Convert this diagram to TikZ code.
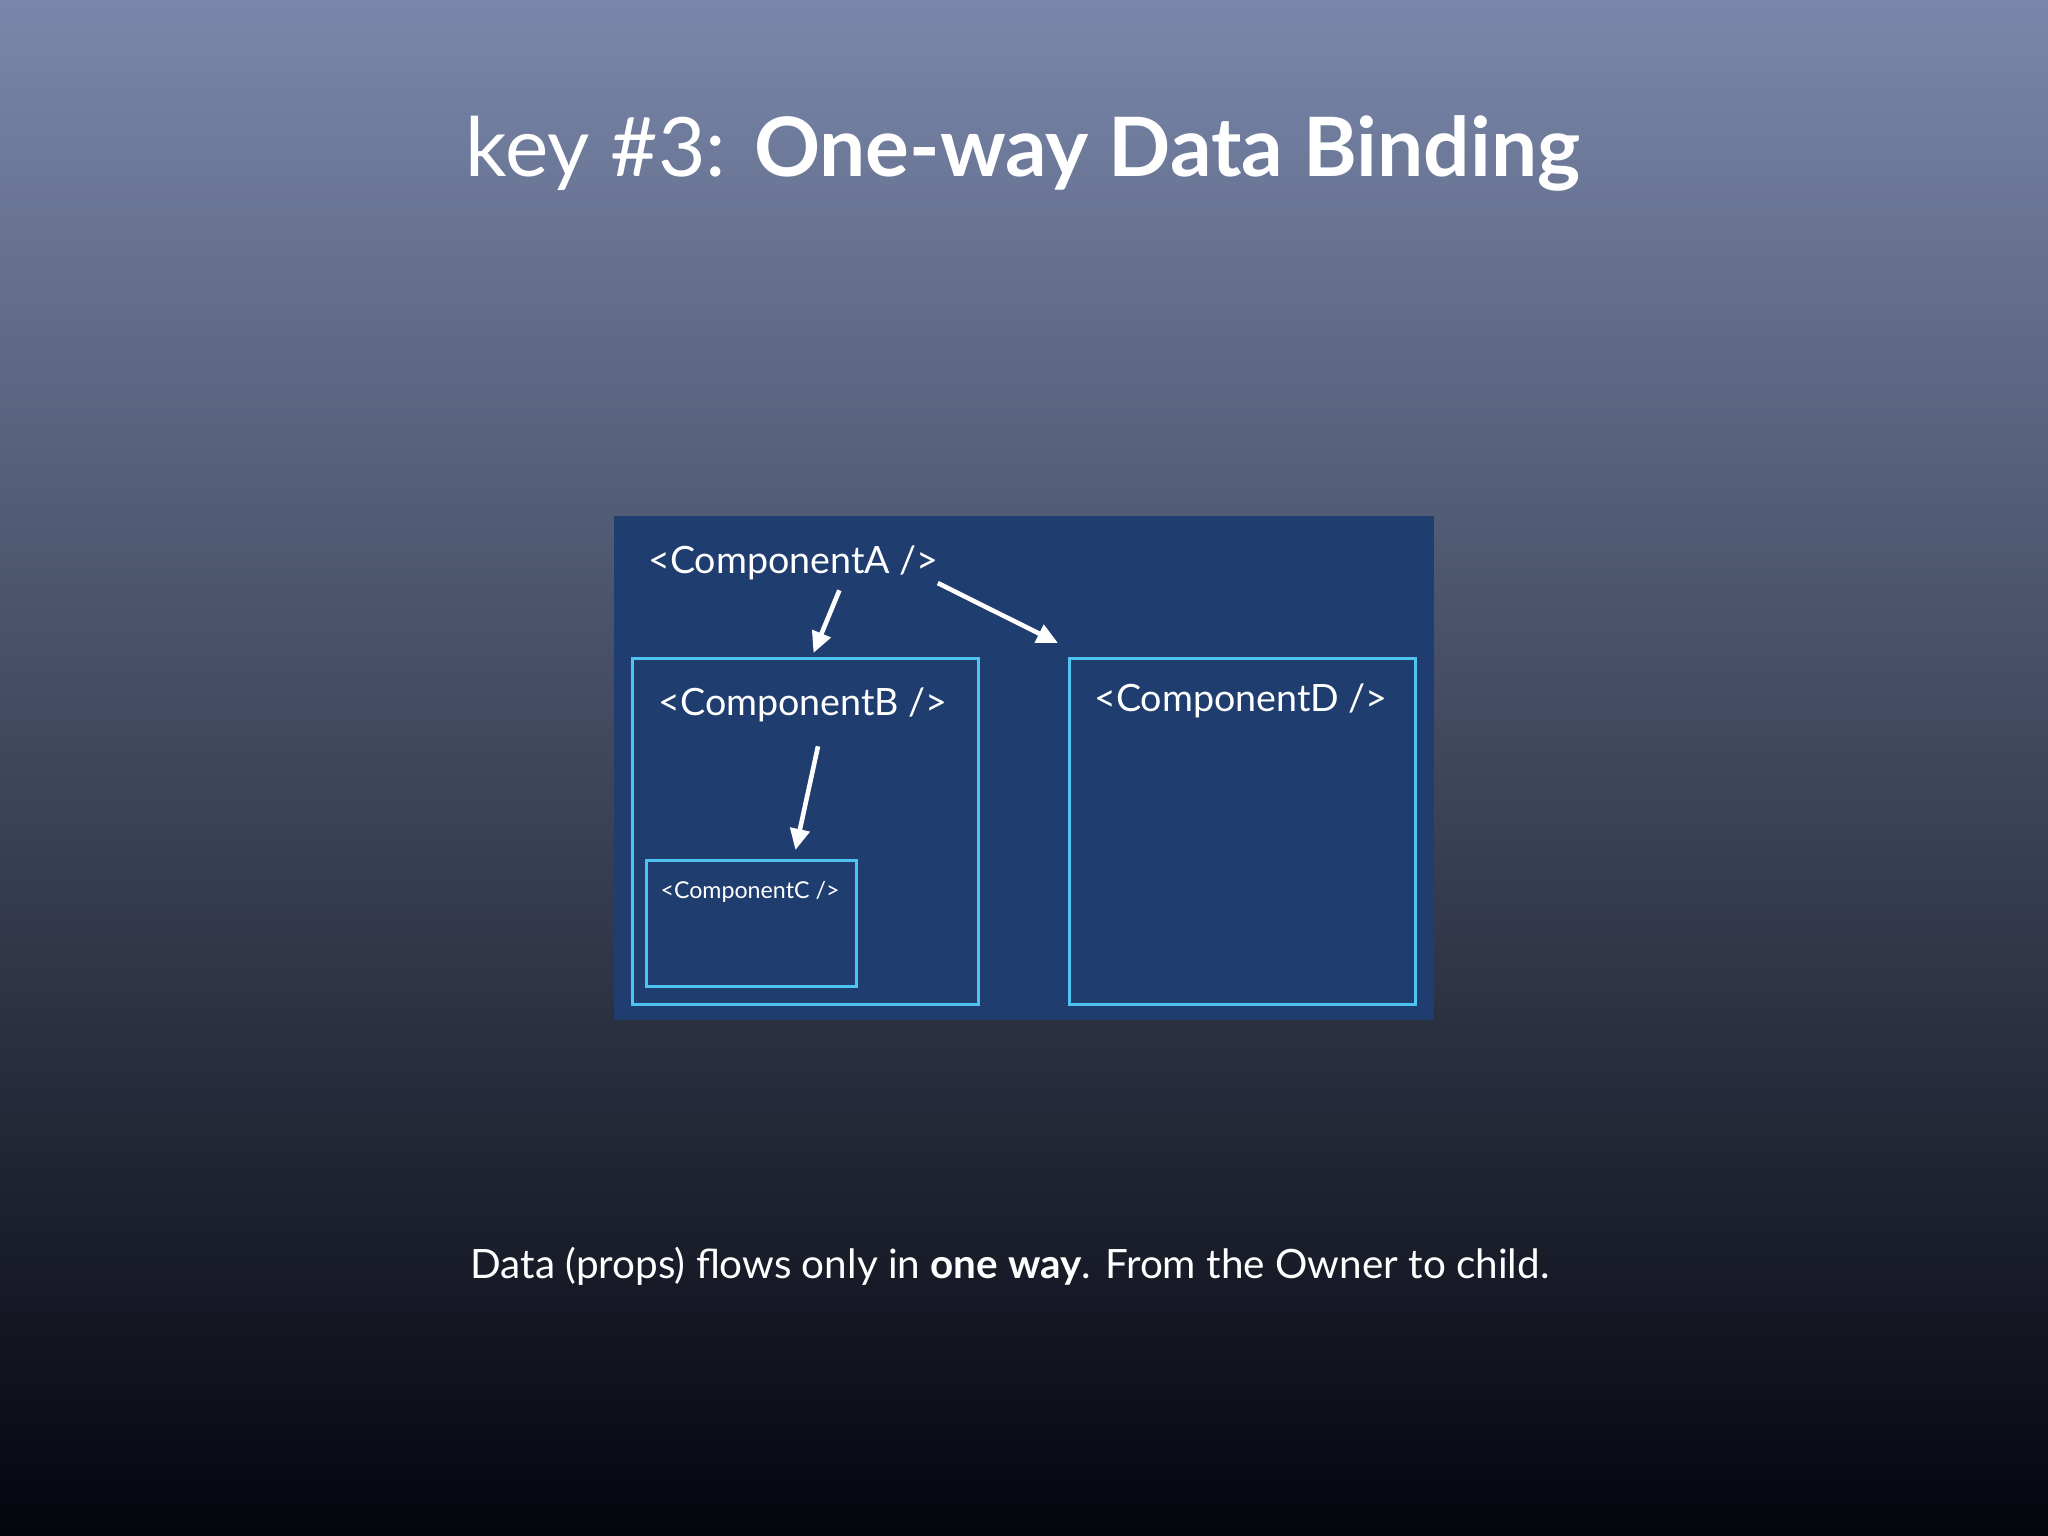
\documentclass[tikz,border=0pt]{standalone}
\usepackage{fontspec}
\setmainfont{Lato}
\usepackage{tikz}
\usetikzlibrary{arrows.meta, positioning, calc}

\definecolor{bgtop}{RGB}{122,135,170}
\definecolor{bgmid}{RGB}{66,72,102}
\definecolor{bgbot}{RGB}{4,5,13}
\definecolor{panel}{RGB}{31,61,110}
\definecolor{edge}{RGB}{80,196,240}

\begin{document}
\begin{tikzpicture}[x=0.01cm, y=-0.01cm,
    comp/.style={draw=edge, line width=0.8pt, inner sep=0pt, anchor=north west},
    tag/.style={text=white, inner sep=1pt},
    flow/.style={draw=white, line width=1.3pt, -{Triangle[length=6pt, width=5.5pt]}}]
% Sfondo
\fill[top color=bgtop, middle color=bgmid, bottom color=bgbot] (0,0) rectangle (2048,1536);
\useasboundingbox (0,0) rectangle (2048,1536);

% Titolo
\node[text=white, font=\fontsize{23.3}{28}\selectfont] (title) at (1023,153) {key \#3: \textbf{One-way Data Binding}};

% Componenti
\fill[panel] (614,516) rectangle (1434,1020);
\node[tag, font=\fontsize{10.7}{13}\selectfont, anchor=west] (lblA) at (644,563) {<ComponentA />};
\node[comp, minimum width=3.46cm, minimum height=3.46cm] (boxB) at (631,657) {};
\node[tag, font=\fontsize{10.7}{13}\selectfont] (lblB) at (803,705) {<ComponentB />};
\node[comp, minimum width=2.10cm, minimum height=1.26cm] (boxC) at (645,859) {};
\node[tag, font=\fontsize{6.6}{8}\selectfont] (lblC) at (750,892) {<ComponentC />};
\node[comp, minimum width=3.46cm, minimum height=3.46cm] (boxD) at (1068,657) {};
\node[tag, font=\fontsize{10.7}{13}\selectfont] (lblD) at (1241,701) {<ComponentD />};

% Frecce
\draw[flow] ($(lblA.south)+(46,6)$) -- ($(boxB.north)+(8,-4)$);
\draw[flow] ($(lblA.east)+(-5,20)$) -- ($(boxD.north west)+(-10,-14)$);
\draw[flow] ($(lblB.south)+(15,20)$) -- ($(boxC.north)+(44,-9)$);

% Didascalia
\node[text=white, font=\fontsize{11.5}{14}\selectfont] (note) at (1010,1266) {Data (props) flows only in \textbf{one way}. From the Owner to child.};
\end{tikzpicture}
\end{document}
